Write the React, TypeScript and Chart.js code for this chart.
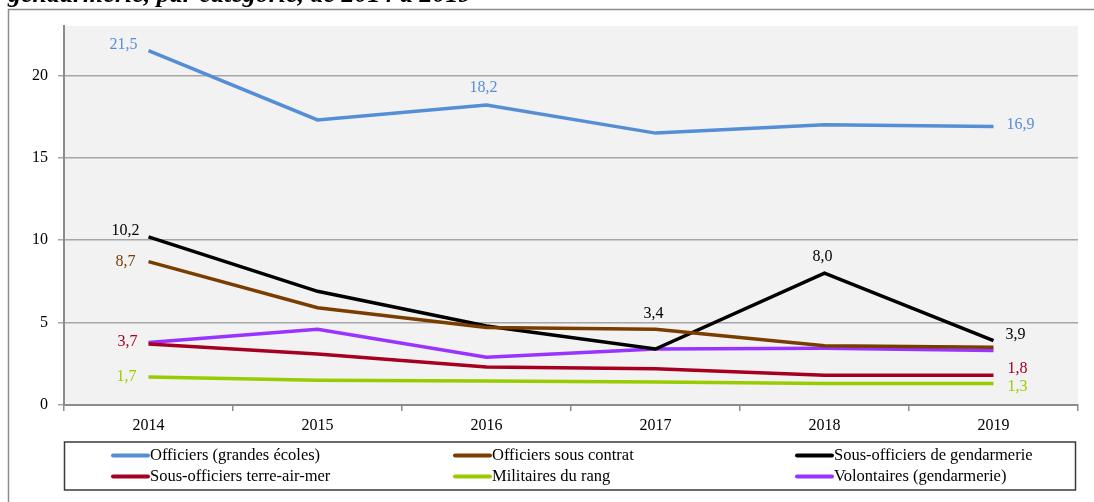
import React, { useEffect, useRef } from "react";
import { Chart, registerables } from "chart.js";

Chart.register(...registerables);

// ---- Data ----
const years = ["2014", "2015", "2016", "2017", "2018", "2019"];
const seriesNames = [
  "Officiers (grandes écoles)",
  "Officiers sous contrat",
  "Sous-officiers de gendarmerie",
  "Sous-officiers terre-air-mer",
  "Militaires du rang",
  "Volontaires (gendarmerie)",
];
const officiersGrandesEcoles = [21.5, 17.3, 18.2, 16.5, 17.0, 16.9];
const officiersSousContrat = [8.7, 5.9, 4.7, 4.6, 3.6, 3.5];
const sousOfficiersGendarmerie = [10.2, 6.9, 4.8, 3.4, 8.0, 3.9];
const sousOfficiersTerreAirMer = [3.7, 3.1, 2.3, 2.2, 1.8, 1.8];
const militairesDuRang = [1.7, 1.5, 1.45, 1.4, 1.3, 1.3];
const volontairesGendarmerie = [3.8, 4.6, 2.9, 3.4, 3.45, 3.3];
const yTickValues = [0, 5, 10, 15, 20];
const titleText = "gendarmerie, par catégorie, de 2014 à 2019";

const seriesColors = ["#558ed5", "#7a3d00", "#000000", "#a50021", "#99cc00", "#9933ff"];

// which points carry a value label (series index, category index) and where
const labelSpecs = [
  { ds: 0, i: 0, align: "right", dx: -11, dy: -6 },
  { ds: 0, i: 2, align: "center", dx: -3, dy: -17 },
  { ds: 0, i: 5, align: "left", dx: 13, dy: -2 },
  { ds: 1, i: 0, align: "right", dx: -13, dy: 0 },
  { ds: 2, i: 0, align: "right", dx: -9, dy: -6 },
  { ds: 2, i: 3, align: "center", dx: -2, dy: -35 },
  { ds: 2, i: 4, align: "center", dx: -2, dy: -16 },
  { ds: 2, i: 5, align: "left", dx: 12, dy: -6 },
  { ds: 3, i: 0, align: "right", dx: -11, dy: -2 },
  { ds: 3, i: 5, align: "left", dx: 14, dy: -7 },
  { ds: 4, i: 0, align: "right", dx: -12, dy: 0 },
  { ds: 4, i: 5, align: "left", dx: 14, dy: 3 },
];

const FONT = '"Liberation Serif", "Times New Roman", serif';

const framePlugin = {
  id: "frameAndBackground",
  beforeDraw(chart: any) {
    const { ctx, chartArea } = chart;
    ctx.save();
    ctx.fillStyle = "#ffffff";
    ctx.fillRect(0, 0, chart.width, chart.height);
    ctx.fillStyle = "#f2f2f2";
    ctx.fillRect(chartArea.left, chartArea.top, chartArea.right - chartArea.left, chartArea.bottom - chartArea.top);
    ctx.strokeStyle = "#8c8c8c";
    ctx.lineWidth = 1.5;
    ctx.beginPath();
    ctx.moveTo(8.5, chart.height);
    ctx.lineTo(8.5, 9.5);
    ctx.lineTo(chart.width, 9.5);
    ctx.stroke();
    ctx.restore();
  },
};

const valueLabelPlugin = {
  id: "valueLabels",
  afterDatasetsDraw(chart: any) {
    const ctx = chart.ctx;
    ctx.save();
    ctx.font = `16px ${FONT}`;
    ctx.textBaseline = "middle";
    labelSpecs.forEach((s) => {
      const meta = chart.getDatasetMeta(s.ds);
      const pt = meta.data[s.i];
      const v = chart.data.datasets[s.ds].data[s.i] as number;
      ctx.fillStyle = seriesColors[s.ds];
      ctx.textAlign = s.align as CanvasTextAlign;
      ctx.fillText(v.toFixed(1).replace(".", ","), pt.x + s.dx, pt.y + s.dy);
    });
    ctx.restore();
  },
};

const legendPlugin = {
  id: "boxLegend",
  afterDraw(chart: any) {
    const ctx = chart.ctx;
    ctx.save();
    ctx.strokeStyle = "#3a3a3a";
    ctx.lineWidth = 1.5;
    ctx.strokeRect(64.5, 442, 1011, 48);
    const cols = [113, 455, 797];
    const rows = [455.5, 476.5];
    ctx.font = `16.5px ${FONT}`;
    ctx.textBaseline = "middle";
    ctx.textAlign = "left";
    chart.data.datasets.forEach((ds: any, k: number) => {
      const x = cols[k % 3];
      const y = rows[Math.floor(k / 3)];
      ctx.strokeStyle = ds.borderColor;
      ctx.lineWidth = 4;
      ctx.lineCap = "round";
      ctx.beginPath();
      ctx.moveTo(x, y);
      ctx.lineTo(x + 35, y);
      ctx.stroke();
      ctx.fillStyle = "#000";
      ctx.fillText(ds.label, x + 37, y);
    });
    ctx.restore();
  },
};

export default function App() {
  const ref = useRef<HTMLCanvasElement>(null);

  useEffect(() => {
    if (!ref.current) return;
    const values = [
      officiersGrandesEcoles,
      officiersSousContrat,
      sousOfficiersGendarmerie,
      sousOfficiersTerreAirMer,
      militairesDuRang,
      volontairesGendarmerie,
    ];
    const chart = new Chart(ref.current, {
      type: "line",
      data: {
        labels: years,
        datasets: values.map((d, k) => ({
          label: seriesNames[k],
          data: d,
          borderColor: seriesColors[k],
          backgroundColor: seriesColors[k],
          borderWidth: 3.5,
          pointRadius: 0,
          tension: 0,
          fill: false,
        })),
      },
      options: {
        animation: false,
        responsive: false,
        maintainAspectRatio: false,
        layout: { padding: { left: 0, top: 26, right: 16, bottom: 0 } },
        plugins: {
          legend: { display: false },
          tooltip: { enabled: false },
          title: { display: false },
        },
        scales: {
          x: {
            type: "category",
            offset: true,
            afterFit: (s: any) => {
              s.height = 97;
            },
            grid: {
              display: true,
              offset: true,
              drawOnChartArea: false,
              drawTicks: true,
              tickLength: 6,
              color: "#8c8c8c",
              lineWidth: 1.5,
            },
            border: { display: true, color: "#8c8c8c", width: 2 },
            ticks: {
              color: "#000",
              font: { family: FONT, size: 16 },
              padding: 5,
              maxRotation: 0,
            },
          },
          y: {
            min: 0,
            max: 23,
            afterFit: (s: any) => {
              s.width = 64;
            },
            afterBuildTicks: (s: any) => {
              s.ticks = yTickValues.map((v) => ({ value: v }));
            },
            grid: {
              color: "#a6a6a6",
              lineWidth: 1.5,
              tickLength: 6,
              drawTicks: true,
            },
            border: { display: true, color: "#8c8c8c", width: 2 },
            ticks: {
              color: "#000",
              font: { family: FONT, size: 16 },
              padding: 10,
            },
          },
        },
      },
      plugins: [framePlugin, valueLabelPlugin, legendPlugin],
    });
    return () => chart.destroy();
  }, []);

  return (
    <div style={{ position: "fixed", left: 0, top: 0, width: 1094, height: 502, overflow: "hidden", background: "#fff" }}>
      <canvas ref={ref} width={1094} height={502} style={{ position: "absolute", left: 0, top: 0, width: 1094, height: 502 }} />
      <div
        style={{
          position: "absolute",
          left: 8,
          top: -19,
          fontFamily: FONT,
          fontStyle: "italic",
          fontWeight: "bold",
          fontSize: 26,
          lineHeight: "26px",
          whiteSpace: "nowrap",
          color: "#000",
        }}
      >
        {titleText}
      </div>
    </div>
  );
}
